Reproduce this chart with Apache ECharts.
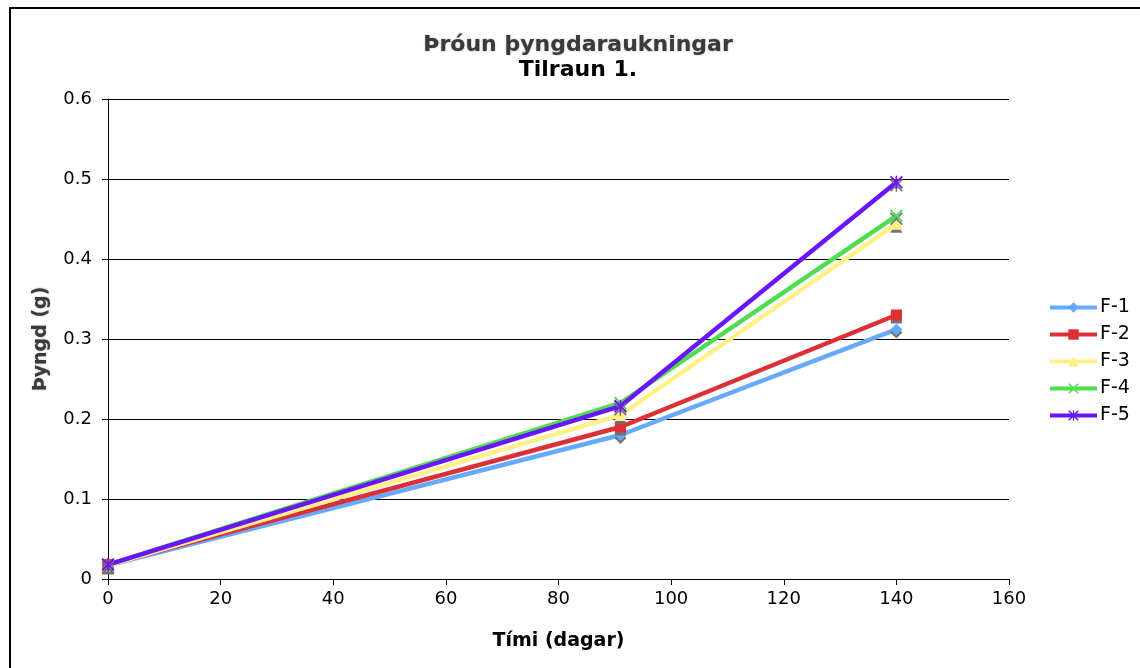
<!DOCTYPE html>
<html>
<head>
<meta charset="utf-8">
<script src="https://cdn.jsdelivr.net/npm/echarts@6/dist/echarts.min.js"></script>
<style>
  html, body { margin: 0; padding: 0; background: #fff; }
  #chart { width: 1140px; height: 668px; }
</style>
</head>
<body>
<div id="chart"></div>
<script>
// Weight gain over time, trial 1
const days = [0, 91, 140];
const seriesNames = ['F-1', 'F-2', 'F-3', 'F-4', 'F-5'];
const f1 = [0.017, 0.180, 0.312];
const f2 = [0.018, 0.190, 0.330];
const f3 = [0.017, 0.205, 0.444];
const f4 = [0.018, 0.220, 0.454];
const f5 = [0.018, 0.216, 0.496];
const yTicks = [0, 0.1, 0.2, 0.3, 0.4, 0.5, 0.6];
const xTicks = [0, 20, 40, 60, 80, 100, 120, 140, 160];
const titleLines = ['Þróun þyngdaraukningar', 'Tilraun 1.'];

const colors = ['#66aaff', '#dd2f36', '#fff08a', '#4fdd4f', '#6a14ff'];

// filled X and asterisk marker outlines
const crossPath = 'path://M1,0 L5,4 L9,0 L10,1 L6,5 L10,9 L9,10 L5,6 L1,10 L0,9 L4,5 L0,1 Z';
const starPath = 'path://M1,0 L4.4,3.4 L4.4,0 L5.6,0 L5.6,3.4 L9,0 L10,1 L6,5 L10,9 L9,10 L5.6,6.6 L5.6,10 L4.4,10 L4.4,6.6 L1,10 L0,9 L4,5 L0,1 Z';
const symbols = ['diamond', 'rect', 'triangle', crossPath, starPath];
const symbolSizes = [12, 11, 12, 13, 13];

const allValues = [f1, f2, f3, f4, f5];

const series = seriesNames.map((name, i) => ({
  name: name,
  type: 'line',
  data: days.map((d, j) => [d, allValues[i][j]]),
  symbol: symbols[i],
  symbolSize: symbolSizes[i],
  showAllSymbol: true,
  lineStyle: { color: colors[i], width: 4.5 },
  itemStyle: {
    color: colors[i],
    shadowColor: 'rgba(110,110,110,0.95)',
    shadowOffsetY: 3,
    shadowBlur: 0
  },
  emphasis: { disabled: true },
  animation: false,
  z: 2 + i
}));

const font = 'DejaVu Sans, Verdana, sans-serif';
const chart = echarts.init(document.getElementById('chart'), null, { renderer: 'canvas' });
chart.setOption({
  animation: false,
  backgroundColor: '#fff',
  graphic: [{
    type: 'rect',
    shape: { x: 10, y: 8, width: 1160, height: 700 },
    style: { fill: 'none', stroke: '#000', lineWidth: 2 },
    silent: true
  }, {
    type: 'text',
    x: 578, y: 45,
    style: {
      text: titleLines[0], align: 'center', verticalAlign: 'middle',
      font: 'bold 22px ' + font, fill: '#3a3a3a',
      textShadowColor: 'rgba(0,0,0,0.35)', textShadowBlur: 2
    },
    silent: true
  }, {
    type: 'text',
    x: 578, y: 70,
    style: {
      text: titleLines[1], align: 'center', verticalAlign: 'middle',
      font: 'bold 22px ' + font, fill: '#000'
    },
    silent: true
  }],
  legend: {
    orient: 'vertical',
    left: 1043,
    top: 293,
    itemWidth: 47,
    itemHeight: 13,
    itemGap: 8,
    data: seriesNames,
    lineStyle: { width: 4 },
    textStyle: { fontFamily: font, fontSize: 19, color: '#000', padding: [0, 0, 0, -2] }
  },
  grid: { left: 108, top: 99, right: 131, bottom: 89, containLabel: false },
  xAxis: {
    type: 'value',
    min: xTicks[0],
    max: xTicks[xTicks.length - 1],
    interval: 20,
    name: 'Tími (dagar)',
    nameLocation: 'middle',
    nameGap: 53,
    nameTextStyle: { fontFamily: font, fontSize: 19, fontWeight: 'bold', color: '#000' },
    axisLine: { onZero: false, lineStyle: { color: '#000', width: 1 } },
    axisTick: { show: true, length: 6, lineStyle: { color: '#000' } },
    axisLabel: { fontFamily: font, fontSize: 18, color: '#000', margin: 11 },
    splitLine: { show: false }
  },
  yAxis: {
    type: 'value',
    min: yTicks[0],
    max: yTicks[yTicks.length - 1],
    interval: 0.1,
    name: 'Þyngd (g)',
    nameLocation: 'middle',
    nameGap: 57,
    nameRotate: 90,
    nameTextStyle: {
      fontFamily: font, fontSize: 19, fontWeight: 'bold', color: '#3a3a3a',
      textShadowColor: 'rgba(0,0,0,0.35)', textShadowBlur: 2
    },
    axisLine: { show: true, lineStyle: { color: '#000', width: 1 } },
    axisTick: { show: true, length: 6, lineStyle: { color: '#000' } },
    axisLabel: {
      fontFamily: font, fontSize: 18, color: '#000', margin: 16,
      formatter: v => String(Math.round(v * 10) / 10)
    },
    splitLine: { show: true, lineStyle: { color: '#000', width: 1 } }
  },
  series: series
});
</script>
</body>
</html>
